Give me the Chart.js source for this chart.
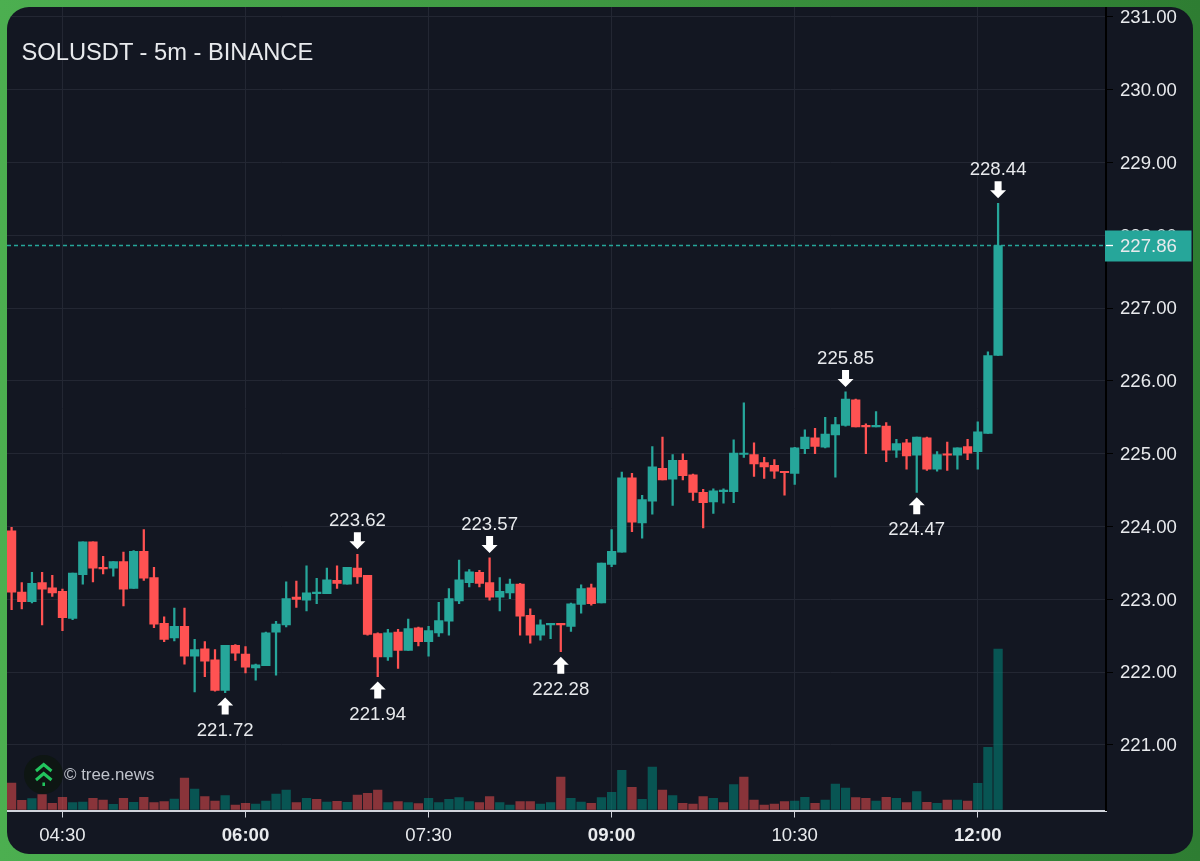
<!DOCTYPE html>
<html>
<head>
<meta charset="utf-8">
<title>SOLUSDT - 5m - BINANCE</title>
<script src="https://cdn.jsdelivr.net/npm/chart.js@4"></script>
<style>
    html, body { margin: 0; padding: 0; width: 1200px; height: 861px; overflow: hidden; }
    body { background: linear-gradient(90deg, #4caf50, #2e7d32); font-family: "Liberation Sans", Arial, sans-serif; }
    #panel { position: absolute; left: 7px; top: 7px; width: 1186px; height: 847px; background: #131722; border-radius: 22px; overflow: hidden; }
    #chart { position: absolute; left: 0; top: 0; }
    #title { position: absolute; left: 14.5px; top: 31px; font-size: 23.7px; line-height: 28px; color: #e8eaed; }
    #logo { position: absolute; left: 17px; top: 748px; width: 39px; height: 39px; }
    #credit { position: absolute; left: 57px; top: 758px; font-size: 16.9px; line-height: 20px; color: #bfc3cb; }
</style>
</head>
<body>
<div id="panel">
    <canvas id="chart" width="1186" height="847"></canvas>
    <div id="title">SOLUSDT - 5m - BINANCE</div>
    <svg id="logo" viewBox="0 0 39 39">
        <circle cx="19.5" cy="19.5" r="19.5" fill="#0e1613"/>
        <polyline points="12,16 19.7,9.5 27.5,16" fill="none" stroke="#22c55e" stroke-width="3"/>
        <polyline points="12,25 19.7,18.5 27.5,25" fill="none" stroke="#22c55e" stroke-width="3"/>
        <line x1="19.7" y1="27.5" x2="19.7" y2="31" stroke="#22c55e" stroke-width="2.6"/>
    </svg>
    <div id="credit">© tree.news</div>
</div>

<script>
    var opens = [223.94,223.10,222.97,223.23,223.16,223.11,222.74,223.34,223.79,223.44,223.43,223.52,223.15,223.66,223.30,222.67,222.47,222.63,222.22,222.32,222.17,221.75,222.37,222.25,222.06,222.09,222.55,222.65,223.03,222.99,223.08,223.08,223.26,223.21,223.43,223.33,222.53,222.21,222.55,222.30,222.61,222.42,222.54,222.70,222.98,223.23,223.37,223.23,223.03,223.09,223.21,222.78,222.51,222.65,222.66,222.63,222.93,223.16,222.95,223.48,223.65,224.67,224.05,224.35,224.80,224.65,224.91,224.71,224.47,224.34,224.48,224.48,224.99,224.99,224.88,224.84,224.76,224.73,225.07,225.22,225.09,225.26,225.39,225.74,225.39,225.37,225.38,225.05,225.15,224.98,225.22,224.79,225.00,224.98,225.10,225.03,225.28,226.35];
    var highs = [223.99,223.23,223.37,223.37,223.33,223.14,223.36,223.79,223.79,223.59,223.52,223.65,223.67,223.96,223.44,222.76,222.88,222.88,222.45,222.42,222.31,222.37,222.38,222.35,222.11,222.55,222.70,223.24,223.25,223.46,223.29,223.43,223.46,223.44,223.62,223.33,222.54,222.59,222.59,222.73,222.62,222.63,222.96,223.15,223.54,223.41,223.40,223.57,223.30,223.28,223.22,222.87,222.72,222.67,222.66,222.95,223.20,223.21,223.50,223.96,224.75,224.73,224.43,225.10,225.23,224.99,225.00,224.72,224.51,224.52,224.52,225.19,225.70,225.15,224.95,224.92,224.76,225.09,225.33,225.35,225.50,225.50,225.85,225.75,225.41,225.58,225.43,225.20,225.20,225.23,225.23,225.03,225.16,225.08,225.20,225.44,226.40,228.44];
    var lows = [222.86,222.87,222.95,222.65,223.04,222.57,222.72,223.21,223.24,223.35,223.32,222.91,223.15,223.26,222.61,222.42,222.43,222.11,221.73,221.94,221.74,221.72,222.16,221.99,221.89,222.09,221.96,222.62,222.89,222.84,222.94,223.08,223.15,223.21,223.22,222.51,221.94,222.16,222.05,222.30,222.36,222.22,222.49,222.51,222.94,223.17,223.17,222.99,222.84,223.01,222.51,222.40,222.44,222.46,222.28,222.56,222.81,222.92,222.95,223.45,223.65,223.93,223.84,224.17,224.64,224.29,224.64,224.36,223.98,224.18,224.32,224.33,224.95,224.69,224.66,224.66,224.43,224.58,225.00,225.00,225.08,224.68,225.38,225.37,225.00,225.37,224.89,224.95,224.79,224.47,224.77,224.76,224.77,224.79,224.92,224.79,225.28,226.35];
    var closes = [223.10,222.97,223.22,223.14,223.09,222.75,223.36,223.79,223.43,223.42,223.52,223.14,223.66,223.29,222.66,222.45,222.63,222.22,222.31,222.15,221.75,222.37,222.26,222.07,222.10,222.54,222.66,223.01,223.00,223.09,223.10,223.27,223.22,223.44,223.31,222.52,222.21,222.54,222.30,222.60,222.42,222.57,222.71,223.01,223.27,223.38,223.22,223.03,223.11,223.21,222.77,222.51,222.65,222.66,222.65,222.94,223.15,222.94,223.50,223.66,224.67,224.06,224.37,224.82,224.64,224.91,224.70,224.47,224.33,224.49,224.50,225.01,225.00,224.86,224.82,224.76,224.74,225.08,225.23,225.10,225.27,225.40,225.75,225.37,225.37,225.38,225.05,225.14,224.97,225.23,224.79,224.99,224.98,225.08,225.01,225.30,226.35,227.86];

    var volumes = [79,27,32,44,18,36,20,22,33,28,15,33,21,36,20,23,31,94,61,38,25,41,13,18,16,25,46,58,20,33,30,22,24,21,43,48,58,20,23,20,17,33,20,30,35,23,20,38,20,13,23,23,16,20,97,33,22,18,35,51,117,66,30,127,58,41,18,16,38,33,20,74,97,28,13,16,23,25,36,18,28,76,64,35,33,25,36,33,20,53,21,18,28,28,25,78,186,481];
    var volumeSides = ['d','d','u','d','d','d','u','u','d','d','u','d','u','d','d','d','u','d','u','d','d','u','d','d','u','u','u','u','d','u','d','u','d','u','d','d','d','u','d','u','d','u','u','u','u','u','d','d','u','u','d','d','u','u','d','u','u','d','u','u','u','d','u','u','d','u','d','d','d','u','d','u','d','d','d','d','d','u','u','d','u','u','u','d','d','u','d','u','d','u','d','u','d','u','d','u','u','u'];

    var timeTicks = [5, 23, 41, 59, 77, 95];
    var timeLabels = ['04:30', '06:00', '07:30', '09:00', '10:30', '12:00'];
    var boldTimes = ['06:00', '09:00', '12:00'];
    var priceTicks = [221, 222, 223, 224, 225, 226, 227, 228, 229, 230, 231];

    var lastPrice = 227.86;
    var highMarkers = [34, 47, 82, 97];
    var lowMarkers = [21, 36, 54, 89];

    var UP = '#26a69a';
    var DOWN = '#ff5252';
    var FONT = '"Liberation Sans", Arial, sans-serif';
    var LABEL = '#e8eaed';
    var GRID = '#232733';

    var idx = opens.map(function (o, i) { return i; });

    function candleColor(i) {
        return closes[i] >= opens[i] ? UP : DOWN;
    }

    // the plot has to run right up to the panel edge, so no room for label overhang
    function noPadding(scale) {
        scale.paddingTop = 0;
        scale.paddingBottom = 0;
        scale.paddingLeft = 0;
        scale.paddingRight = 0;
    }

    // arrows, last price line and its tag sit on top of the candles
    var overlay = {
        id: 'overlay',
        afterDraw: function (chart) {
            var c = chart.ctx;
            var x = chart.scales.x;
            var y = chart.scales.y;
            var area = chart.chartArea;

            function arrow(px, tip, dir) {
                c.beginPath();
                c.moveTo(px, tip);
                c.lineTo(px + 8, tip + dir * 8);
                c.lineTo(px + 3.5, tip + dir * 8);
                c.lineTo(px + 3.5, tip + dir * 17);
                c.lineTo(px - 3.5, tip + dir * 17);
                c.lineTo(px - 3.5, tip + dir * 8);
                c.lineTo(px - 8, tip + dir * 8);
                c.closePath();
                c.fillStyle = '#ffffff';
                c.fill();
            }

            c.save();
            c.font = '18.6px ' + FONT;
            c.textAlign = 'center';
            c.textBaseline = 'middle';

            highMarkers.forEach(function (i) {
                var px = x.getPixelForValue(i);
                var py = y.getPixelForValue(highs[i]);
                arrow(px, py - 5, -1);
                c.fillStyle = LABEL;
                c.fillText(highs[i].toFixed(2), px, py - 33);
            });
            lowMarkers.forEach(function (i) {
                var px = x.getPixelForValue(i);
                var py = y.getPixelForValue(lows[i]);
                arrow(px, py + 5, 1);
                c.fillStyle = LABEL;
                c.fillText(lows[i].toFixed(2), px, py + 38);
            });

            var ly = Math.floor(y.getPixelForValue(lastPrice)) + 0.5;
            c.strokeStyle = UP;
            c.lineWidth = 1.3;
            c.setLineDash([4, 3]);
            c.beginPath();
            c.moveTo(area.left, ly);
            c.lineTo(area.right, ly);
            c.stroke();
            c.setLineDash([]);

            c.fillStyle = UP;
            c.fillRect(area.right - 1, ly - 15, 86.5, 31);
            c.strokeStyle = '#ffffff';
            c.beginPath();
            c.moveTo(area.right, ly);
            c.lineTo(area.right + 7, ly);
            c.stroke();
            c.fillStyle = LABEL;
            c.textAlign = 'left';
            c.fillText(lastPrice.toFixed(2), area.right + 14, ly + 1);
            c.restore();
        }
    };

    new Chart(document.getElementById('chart').getContext('2d'), {
        type: 'bar',
        data: {
            datasets: [
                {
                    label: 'Volume',
                    yAxisID: 'yVol',
                    order: 3,
                    barThickness: 8.6,
                    data: idx.map(function (i) { return { x: i, y: volumes[i] }; }),
                    backgroundColor: volumeSides.map(function (s) {
                        return s === 'u' ? 'rgba(0,137,123,0.55)' : 'rgba(255,82,82,0.5)';
                    })
                },
                {
                    label: 'Wick',
                    order: 2,
                    barThickness: 1.6,
                    data: idx.map(function (i) { return { x: i, y: [lows[i], highs[i]] }; }),
                    backgroundColor: idx.map(candleColor)
                },
                {
                    label: 'Body',
                    order: 1,
                    barThickness: 8.6,
                    minBarLength: 1.5,
                    data: idx.map(function (i) { return { x: i, y: [opens[i], closes[i]] }; }),
                    backgroundColor: idx.map(candleColor)
                }
            ]
        },
        options: {
            responsive: false,
            animation: false,
            grouped: false,
            layout: { padding: 0, autoPadding: false },
            plugins: { legend: { display: false }, title: { display: false }, tooltip: { enabled: false } },
            scales: {
                x: {
                    type: 'linear',
                    offset: false,
                    min: -0.452,
                    max: 107.61,
                    afterBuildTicks: function (scale) {
                        scale.ticks = timeTicks.map(function (v) { return { value: v }; });
                    },
                    afterFit: function (scale) { scale.height = 43.5; noPadding(scale); },
                    grid: { offset: false, color: GRID, tickColor: '#d1d4dc', tickLength: 7 },
                    border: { color: '#d1d4dc', width: 2 },
                    ticks: {
                        autoSkip: false,
                        maxRotation: 0,
                        padding: 7,
                        color: LABEL,
                        font: function (ctx) {
                            var label = ctx.tick ? timeLabels[timeTicks.indexOf(ctx.tick.value)] : '';
                            return { family: FONT, size: 18.6, weight: boldTimes.indexOf(label) >= 0 ? 'bold' : 'normal' };
                        },
                        callback: function (value) { return timeLabels[timeTicks.indexOf(value)]; }
                    }
                },
                y: {
                    position: 'right',
                    min: 220.1,
                    max: 231.137,
                    afterBuildTicks: function (scale) {
                        scale.ticks = priceTicks.map(function (v) { return { value: v }; });
                    },
                    afterFit: function (scale) { scale.width = 87; noPadding(scale); },
                    grid: { color: GRID, tickColor: '#000000', tickLength: 7 },
                    border: { color: '#000000', width: 2 },
                    ticks: {
                        padding: 7,
                        labelOffset: 1,
                        color: LABEL,
                        font: { family: FONT, size: 18.6 },
                        callback: function (value) { return value.toFixed(2); }
                    }
                },
                yVol: {
                    display: false,
                    position: 'left',
                    min: -3.6,
                    max: 2406.9
                }
            }
        },
        plugins: [overlay]
    });
</script>
</body>
</html>
